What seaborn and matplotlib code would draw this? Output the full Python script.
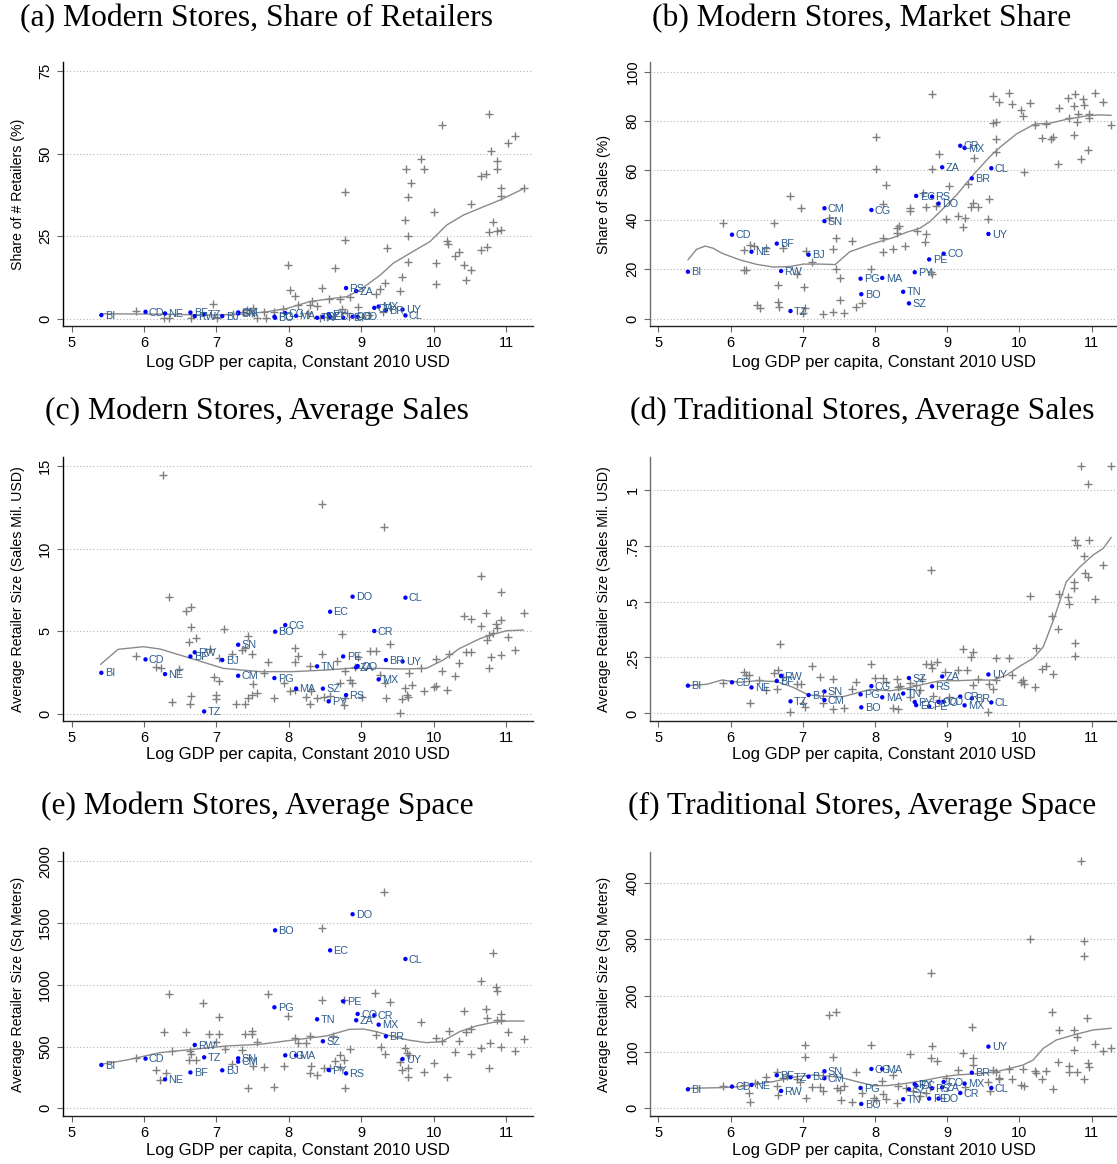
import matplotlib
matplotlib.use("Agg")
import matplotlib.pyplot as plt
import numpy as np
import pandas as pd
import seaborn as sns

# ---------------------------------------------------------------------------
# Labelled countries and their log GDP per capita (constant 2010 USD)
codes = ["BI", "CD", "NE", "BF", "RW", "TZ", "BJ", "CM", "SN", "PG", "BO", "CG",
         "MA", "TN", "SZ", "PY", "EC", "PE", "RS", "DO", "ZA", "CO", "CR", "MX",
         "BR", "UY", "CL"]
log_gdp = [5.41, 6.02, 6.29, 6.64, 6.70, 6.83, 7.08, 7.30, 7.30, 7.80, 7.81, 7.95,
           8.10, 8.39, 8.47, 8.55, 8.57, 8.75, 8.79, 8.88, 8.93, 8.95, 9.18, 9.24,
           9.34, 9.57, 9.61]

# Country values, same order as `codes`
modern_share_retailers = [1.1, 2.1, 1.6, 1.9, 0.8, 1.4, 0.8, 1.9, 1.6, 0.6, 0.3, 1.7,
                          0.9, 0.3, 0.6, 1.4, 0.6, 0.3, 9.3, 0.6, 8.4, 0.6, 3.3, 3.7,
                          2.6, 2.8, 1.0]
modern_market_share = [19.0, 34.0, 27.1, 30.4, 19.3, 3.1, 25.9, 44.7, 39.5, 16.2, 9.9, 44.0,
                       16.5, 10.9, 6.2, 18.8, 49.7, 24.0, 49.4, 46.6, 61.3, 26.3, 70.0, 69.1,
                       56.8, 34.3, 60.9]
modern_avg_sales = [2.48, 3.29, 2.40, 3.47, 3.72, 0.14, 3.25, 2.30, 4.18, 2.16, 4.97, 5.37,
                    1.52, 2.87, 1.52, 0.75, 6.18, 3.47, 1.13, 7.09, 2.81, 2.89, 5.01, 2.08,
                    3.25, 3.17, 7.03]
trad_avg_sales = [0.124, 0.139, 0.116, 0.145, 0.168, 0.054, 0.082, 0.060, 0.098, 0.085, 0.027, 0.122,
                  0.072, 0.089, 0.158, 0.051, 0.037, 0.031, 0.121, 0.051, 0.165, 0.052, 0.075, 0.036,
                  0.067, 0.174, 0.049]
modern_avg_space = [351, 402, 235, 291, 513, 413, 308, 378, 405, 818, 1441, 429,
                    429, 721, 543, 310, 1279, 866, 283, 1571, 713, 764, 753, 677,
                    583, 399, 1209]
trad_avg_space = [33.7, 38.5, 41.4, 58.6, 30.8, 55.0, 56.2, 53.3, 65.7, 36.1, 7.7, 69.8,
                  69.8, 16.0, 33.7, 42.6, 40.2, 17.2, 35.5, 17.2, 37.3, 46.7, 27.2, 43.8,
                  63.3, 109.5, 36.1]

# Other countries (unlabelled), (log GDP, value)
others_share_retailers = [
    (5.89, 2.4), (6.27, 0.1), (6.34, 0.1), (6.65, 0.3), (6.95, 4.6), (7.01, 0.1), (7.23, 1.3),
    (7.37, 1.9), (7.42, 2.6), (7.49, 1.6), (7.51, 3.2), (7.56, 0.1), (7.65, 1.9), (7.79, 1.9),
    (7.92, 3.0), (7.99, 16.3), (8.01, 8.7), (8.08, 7.0), (8.13, 4.3), (8.29, 4.1), (8.32, 5.5),
    (8.39, 3.9), (8.46, 9.3), (8.56, 5.9), (8.64, 15.3), (8.70, 5.9), (8.74, 3.1), (8.77, 38.3),
    (8.78, 24.0), (8.84, 6.7), (8.96, 3.5), (9.20, 7.4), (9.26, 8.9), (9.33, 10.9), (9.35, 21.5),
    (9.30, 1.9), (9.53, 8.3), (9.56, 12.5), (9.62, 45.5), (9.60, 29.9), (9.64, 36.9), (9.65, 25.1),
    (9.65, 17.2), (9.69, 41.1), (9.83, 48.3), (9.87, 45.5), (10.00, 32.2), (10.03, 16.9),
    (10.03, 10.5), (10.12, 58.8), (10.19, 23.5), (10.20, 22.8), (10.29, 19.0), (10.35, 20.2),
    (10.42, 16.4), (10.44, 11.6), (10.51, 14.7), (10.52, 34.9), (10.65, 43.2), (10.65, 20.9),
    (10.72, 43.9), (10.73, 21.6), (10.76, 62.0), (10.77, 26.2), (10.79, 50.7), (10.82, 29.4),
    (10.87, 47.7), (10.87, 45.5), (10.87, 26.7), (10.93, 27.0), (10.93, 39.5), (10.93, 37.1),
    (11.03, 53.4), (11.13, 55.4), (11.25, 39.5), (8.43, 0.1), (8.52, 0.6), (7.69, 0.1),
    (8.27, 1.6), (8.80, 1.6), (9.01, 0.6), (9.10, 1.1)]
others_market_share = [
    (5.90, 38.9), (6.18, 27.7), (6.27, 29.7), (6.32, 29.4), (6.22, 19.7), (6.18, 19.7), (6.36, 5.5),
    (6.41, 4.2), (6.49, 28.7), (6.60, 38.9), (6.66, 13.6), (6.66, 6.9), (6.67, 4.9), (6.73, 28.5),
    (6.83, 49.5), (6.92, 18.1), (6.98, 44.9), (7.02, 12.7), (7.04, 27.5), (7.03, 4.2), (7.01, 2.2),
    (7.13, 23.1), (7.28, 1.9), (7.36, 40.6), (7.42, 28.1), (7.42, 2.6), (7.46, 32.8), (7.46, 20.2),
    (7.52, 7.6), (7.52, 16.5), (7.57, 2.2), (7.68, 31.4), (7.73, 4.9), (7.82, 6.2), (7.95, 20.1),
    (8.01, 73.7), (8.02, 60.5), (8.11, 46.4), (8.11, 32.5), (8.11, 26.9), (8.15, 54.1), (8.25, 28.2),
    (8.31, 36.6), (8.33, 37.5), (8.31, 34.7), (8.41, 29.6), (8.48, 44.9), (8.48, 43.7), (8.58, 35.5),
    (8.66, 50.7), (8.71, 45.1), (8.71, 34.3), (8.69, 31.2), (8.79, 91.1), (8.79, 60.5), (8.77, 19.0),
    (8.79, 17.9), (8.85, 45.7), (8.89, 66.7), (8.98, 40.4), (9.02, 53.8), (9.15, 41.6), (9.22, 37.2),
    (9.25, 40.6), (9.29, 54.4), (9.33, 45.3), (9.36, 46.8), (9.37, 64.9), (9.42, 45.2), (9.56, 40.5),
    (9.58, 48.6), (9.64, 90.3), (9.64, 79.4), (9.67, 79.6), (9.67, 72.6), (9.67, 67.6), (9.72, 87.6),
    (9.85, 91.2), (9.90, 87.0), (10.02, 84.5), (10.05, 82.1), (10.15, 87.4), (10.06, 59.2),
    (10.22, 78.3), (10.31, 73.1), (10.37, 78.7), (10.44, 72.6), (10.47, 73.7), (10.54, 62.8),
    (10.55, 85.2), (10.67, 89.2), (10.68, 81.1), (10.77, 91.1), (10.75, 74.4), (10.75, 86.1),
    (10.79, 79.5), (10.81, 82.7), (10.85, 64.6), (10.88, 88.8), (10.89, 86.5), (10.95, 68.3),
    (10.96, 83.0), (10.96, 81.1), (11.05, 91.4), (11.15, 87.9), (11.27, 78.3)]
others_modern_sales = [
    (5.89, 3.49), (6.17, 2.81), (6.23, 2.75), (6.26, 14.46), (6.34, 7.05), (6.39, 0.69), (6.48, 2.69),
    (6.58, 6.22), (6.62, 4.36), (6.65, 5.25), (6.65, 6.44), (6.65, 1.05), (6.63, 0.59), (6.72, 4.61),
    (6.91, 3.90), (6.96, 2.20), (7.00, 0.87), (7.00, 1.15), (7.03, 1.98), (7.04, 3.35), (7.11, 5.15),
    (7.22, 3.64), (7.27, 0.59), (7.35, 3.86), (7.39, 3.98), (7.40, 0.59), (7.44, 4.71), (7.44, 0.93),
    (7.49, 1.13), (7.49, 3.60), (7.51, 1.78), (7.56, 1.25), (7.66, 2.48), (7.71, 3.13), (7.80, 0.97),
    (7.93, 1.84), (8.01, 1.39), (8.08, 3.98), (8.09, 3.13), (8.12, 3.49), (8.09, 1.43), (8.23, 0.99),
    (8.29, 2.91), (8.29, 0.57), (8.31, 1.35), (8.39, 0.93), (8.46, 12.71), (8.46, 3.64), (8.48, 0.99),
    (8.57, 1.07), (8.67, 3.21), (8.70, 1.88), (8.74, 4.81), (8.76, 0.51), (8.78, 2.59), (8.77, 0.97),
    (8.84, 2.04), (8.87, 1.86), (8.92, 2.85), (8.96, 3.43), (9.01, 1.01), (9.12, 3.78), (9.21, 3.78),
    (9.26, 2.32), (9.31, 11.29), (9.33, 1.88), (9.34, 0.95), (9.40, 4.24), (9.54, 0.06), (9.56, 0.87),
    (9.60, 1.54), (9.63, 1.13), (9.65, 0.99), (9.66, 2.48), (9.70, 1.74), (9.83, 2.75), (9.87, 1.37),
    (10.00, 1.60), (10.03, 3.31), (10.03, 1.66), (10.12, 2.57), (10.19, 1.43), (10.21, 3.60),
    (10.29, 2.30), (10.35, 3.09), (10.42, 5.92), (10.44, 3.76), (10.51, 3.76), (10.52, 5.72),
    (10.65, 5.33), (10.65, 8.36), (10.72, 6.12), (10.73, 4.44), (10.76, 4.77), (10.77, 2.77),
    (10.79, 3.45), (10.82, 4.87), (10.86, 5.45), (10.87, 5.21), (10.93, 5.70), (10.93, 3.54),
    (10.93, 7.35), (11.03, 4.67), (11.13, 3.88), (11.25, 6.10)]
others_trad_sales = [
    (5.90, 0.134), (6.18, 0.186), (6.22, 0.173), (6.25, 0.173), (6.27, 0.048), (6.40, 0.149),
    (6.49, 0.104), (6.60, 0.182), (6.64, 0.107), (6.66, 0.194), (6.68, 0.308), (6.72, 0.164),
    (6.83, 0.006), (6.92, 0.130), (6.98, 0.130), (7.01, 0.045), (7.03, 0.030), (7.13, 0.212),
    (7.24, 0.162), (7.28, 0.045), (7.42, 0.154), (7.42, 0.021), (7.57, 0.025), (7.68, 0.109),
    (7.73, 0.140), (7.95, 0.221), (8.00, 0.158), (8.11, 0.158), (8.15, 0.139), (8.25, 0.022),
    (8.31, 0.152), (8.32, 0.119), (8.35, 0.122), (8.32, 0.018), (8.48, 0.134), (8.48, 0.110),
    (8.49, 0.075), (8.57, 0.125), (8.62, 0.104), (8.65, 0.152), (8.71, 0.219), (8.77, 0.641),
    (8.78, 0.221), (8.79, 0.201), (8.80, 0.077), (8.86, 0.228), (8.88, 0.060), (8.97, 0.186),
    (9.15, 0.194), (9.02, 0.075), (9.22, 0.286), (9.28, 0.194), (9.33, 0.250), (9.36, 0.276),
    (9.36, 0.128), (9.42, 0.155), (9.56, 0.007), (9.58, 0.131), (9.64, 0.107), (9.67, 0.246),
    (9.67, 0.151), (9.85, 0.249), (9.89, 0.171), (10.02, 0.139), (10.05, 0.149), (10.06, 0.130),
    (10.14, 0.525), (10.22, 0.116), (10.23, 0.294), (10.31, 0.197), (10.37, 0.212), (10.46, 0.174),
    (10.45, 0.435), (10.54, 0.379), (10.55, 0.535), (10.67, 0.522), (10.68, 0.489), (10.75, 0.589),
    (10.75, 0.560), (10.77, 0.775), (10.80, 0.754), (10.77, 0.256), (10.77, 0.316), (10.85, 1.106),
    (10.95, 1.027), (10.89, 0.703), (10.91, 0.629), (10.95, 0.608), (10.96, 0.775), (11.05, 0.510),
    (11.15, 0.665), (11.27, 1.106)]
others_modern_space = [
    (5.89, 405), (6.17, 310), (6.22, 229), (6.30, 283), (6.34, 923), (6.27, 615), (6.39, 464),
    (6.58, 615), (6.63, 464), (6.62, 391), (6.65, 440), (6.72, 391), (6.81, 850), (6.90, 602),
    (7.00, 534), (7.03, 602), (7.04, 742), (7.12, 480), (7.22, 359), (7.35, 472), (7.40, 602),
    (7.44, 162), (7.49, 626), (7.49, 599), (7.51, 345), (7.56, 540), (7.66, 332), (7.71, 926),
    (7.80, 175), (7.93, 340), (7.99, 748), (8.08, 569), (8.12, 526), (8.23, 526), (8.29, 588),
    (8.29, 286), (8.31, 340), (8.39, 267), (8.46, 1457), (8.46, 874), (8.48, 327), (8.57, 327),
    (8.61, 586), (8.64, 386), (8.70, 432), (8.71, 337), (8.76, 389), (8.77, 162), (8.76, 874),
    (8.84, 478), (9.19, 931), (9.21, 594), (9.27, 499), (9.31, 1754), (9.33, 443), (9.40, 864),
    (9.54, 375), (9.56, 310), (9.60, 486), (9.63, 445), (9.65, 324), (9.65, 254), (9.66, 432),
    (9.83, 699), (9.87, 297), (10.00, 370), (10.03, 569), (10.12, 543), (10.19, 256), (10.21, 626),
    (10.29, 456), (10.35, 543), (10.42, 785), (10.44, 615), (10.51, 437), (10.51, 645),
    (10.65, 1028), (10.65, 486), (10.72, 802), (10.74, 729), (10.77, 329), (10.78, 529),
    (10.82, 1260), (10.86, 980), (10.87, 953), (10.87, 713), (10.93, 764), (10.93, 494),
    (10.93, 718), (11.03, 615), (11.13, 464), (11.25, 559)]
others_trad_space = [
    (5.90, 39.6), (6.18, 41.4), (6.25, 27.8), (6.27, 10.7), (6.34, 45.6), (6.49, 56.2), (6.64, 65.1),
    (6.65, 39.6), (6.66, 23.7), (6.73, 53.3), (6.78, 57.4), (6.92, 51.5), (6.96, 46.2), (7.03, 111.8),
    (7.03, 90.5), (7.05, 18.9), (7.13, 37.9), (7.24, 38.5), (7.28, 31.4), (7.36, 166.3), (7.46, 171.0),
    (7.42, 90.5), (7.47, 36.7), (7.52, 32.5), (7.53, 15.4), (7.57, 39.6), (7.68, 11.2), (7.73, 65.1),
    (7.82, 27.8), (7.95, 113.0), (7.98, 17.8), (8.02, 14.8), (8.10, 48.5), (8.11, 25.4), (8.15, 16.0),
    (8.25, 58.6), (8.32, 40.2), (8.31, 10.1), (8.43, 36.7), (8.48, 95.9), (8.53, 31.4), (8.62, 21.9),
    (8.71, 26.6), (8.76, 38.5), (8.77, 240.2), (8.79, 111.2), (8.78, 88.8), (8.86, 84.0), (8.98, 54.4),
    (9.15, 68.0), (9.22, 98.2), (9.24, 37.9), (9.34, 144.4), (9.36, 88.8), (9.36, 77.5), (9.57, 47.3),
    (9.59, 31.4), (9.64, 68.0), (9.67, 65.1), (9.71, 52.7), (9.72, 54.4), (9.85, 70.4), (9.89, 51.5),
    (10.02, 41.4), (10.06, 40.2), (10.05, 70.4), (10.14, 300.0), (10.22, 66.9), (10.23, 62.1),
    (10.31, 51.5), (10.37, 66.3), (10.45, 170.4), (10.47, 34.3), (10.54, 82.8), (10.55, 139.1),
    (10.68, 74.6), (10.68, 64.5), (10.75, 139.1), (10.75, 103.6), (10.79, 127.2), (10.79, 65.1),
    (10.85, 438.5), (10.89, 297.6), (10.89, 270.4), (10.90, 52.1), (10.94, 160.9), (10.95, 79.9),
    (10.96, 74.0), (11.05, 113.6), (11.15, 101.8), (11.27, 106.5)]

# Lowess fits, (log GDP, fitted value)
fit_share_retailers = [(5.40, 1.5), (6.22, 1.4), (6.91, 1.1), (7.37, 1.4), (7.69, 2.1), (7.97, 3.1),
                       (8.29, 5.2), (8.52, 5.9), (8.80, 6.7), (8.98, 8.7), (9.26, 13.2), (9.44, 16.8),
                       (9.67, 19.8), (9.95, 23.4), (10.18, 28.4), (10.41, 31.4), (10.64, 33.5),
                       (10.92, 36.0), (11.25, 39.5)]
fit_market_share = [(5.41, 23.8), (5.53, 28.1), (5.65, 29.4), (5.76, 28.5), (5.88, 26.5), (6.13, 23.8),
                    (6.36, 22.0), (6.59, 20.9), (6.82, 21.1), (7.01, 22.1), (7.24, 22.1), (7.45, 21.9),
                    (7.65, 27.1), (7.98, 30.5), (8.25, 32.8), (8.44, 35.0), (8.62, 36.6), (8.76, 39.3),
                    (8.90, 43.3), (9.13, 50.1), (9.36, 58.2), (9.59, 65.6), (9.73, 69.4), (9.96, 74.8),
                    (10.21, 78.8), (10.42, 79.1), (10.65, 80.7), (10.93, 82.1), (11.11, 82.5),
                    (11.27, 82.3)]
fit_modern_sales = [(5.40, 2.99), (5.64, 3.90), (5.99, 4.06), (6.22, 3.92), (6.68, 3.31), (7.09, 2.75),
                    (7.60, 2.55), (8.06, 2.55), (8.52, 2.65), (8.84, 2.75), (9.21, 2.75), (9.58, 2.71),
                    (9.90, 2.75), (10.13, 3.25), (10.36, 3.96), (10.64, 4.55), (10.82, 4.81),
                    (11.01, 5.03), (11.24, 5.07)]
fit_trad_sales = [(5.41, 0.124), (5.67, 0.130), (5.88, 0.149), (6.13, 0.139), (6.36, 0.146), (6.64, 0.142),
                  (6.87, 0.116), (7.08, 0.082), (7.28, 0.077), (7.56, 0.075), (7.93, 0.107), (8.21, 0.101),
                  (8.44, 0.112), (8.67, 0.130), (8.90, 0.146), (9.13, 0.146), (9.36, 0.149), (9.64, 0.149),
                  (9.82, 0.171), (10.01, 0.212), (10.19, 0.246), (10.33, 0.298), (10.47, 0.417),
                  (10.65, 0.589), (10.84, 0.656), (11.02, 0.708), (11.16, 0.738), (11.27, 0.787)]
fit_modern_space = [(5.40, 356), (5.76, 391), (6.22, 451), (6.68, 478), (7.14, 505), (7.60, 518), (8.06, 553),
                    (8.52, 586), (8.84, 640), (9.03, 642), (9.21, 621), (9.44, 580), (9.67, 551), (9.90, 532),
                    (10.11, 540), (10.36, 621), (10.59, 667), (10.82, 696), (11.05, 707), (11.25, 707)]
fit_trad_space = [(5.41, 35.5), (5.90, 36.7), (6.13, 38.5), (6.59, 47.3), (6.92, 56.2), (7.15, 59.2),
                  (7.52, 55.0), (7.75, 47.3), (7.98, 40.2), (8.16, 40.2), (8.44, 44.4), (8.67, 49.1),
                  (8.90, 55.0), (9.13, 59.2), (9.36, 60.9), (9.64, 63.9), (9.82, 69.2), (10.05, 76.9),
                  (10.19, 85.8), (10.33, 106.5), (10.51, 121.3), (10.75, 130.2), (11.02, 139.1),
                  (11.27, 142.0)]

# ---------------------------------------------------------------------------
sns.set_theme(style="ticks")
plt.rcParams["font.family"] = ["Liberation Sans", "DejaVu Sans"]

SERIF = ["Liberation Serif", "DejaVu Serif"]
GREY = "#7f7f7f"
LABEL_BLUE = "#2e5d8e"
DOT_BLUE = "#0000ff"

panels = [
    dict(title="(a) Modern Stores, Share of Retailers", ylabel="Share of # Retailers (%)",
         countries=modern_share_retailers, others=others_share_retailers, fit=fit_share_retailers,
         yticks=[0, 25, 50, 75], yticklabels=["0", "25", "50", "75"], ylim=(-2.2, 77.8)),
    dict(title="(b) Modern Stores, Market Share", ylabel="Share of Sales (%)",
         countries=modern_market_share, others=others_market_share, fit=fit_market_share,
         yticks=[0, 20, 40, 60, 80, 100], yticklabels=["0", "20", "40", "60", "80", "100"],
         ylim=(-2.96, 103.9)),
    dict(title="(c) Modern Stores, Average Sales", ylabel="Average Retailer Size (Sales Mil. USD)",
         countries=modern_avg_sales, others=others_modern_sales, fit=fit_modern_sales,
         yticks=[0, 5, 10, 15], yticklabels=["0", "5", "10", "15"], ylim=(-0.44, 15.55)),
    dict(title="(d) Traditional Stores, Average Sales", ylabel="Average Retailer Size (Sales Mil. USD)",
         countries=trad_avg_sales, others=others_trad_sales, fit=fit_trad_sales,
         yticks=[0, 0.25, 0.5, 0.75, 1], yticklabels=["0", ".25", ".5", ".75", "1"],
         ylim=(-0.034, 1.146)),
    dict(title="(e) Modern Stores, Average Space", ylabel="Average Retailer Size (Sq Meters)",
         countries=modern_avg_space, others=others_modern_space, fit=fit_modern_space,
         yticks=[0, 500, 1000, 1500, 2000], yticklabels=["0", "500", "1000", "1500", "2000"],
         ylim=(-62, 2075)),
    dict(title="(f) Traditional Stores, Average Space", ylabel="Average Retailer Size (Sq Meters)",
         countries=trad_avg_space, others=others_trad_space, fit=fit_trad_space,
         yticks=[0, 100, 200, 300, 400], yticklabels=["0", "100", "200", "300", "400"],
         ylim=(-13.7, 455)),
]

W, H = 1117, 1164
fig = plt.figure(figsize=(W / 100, H / 100), dpi=100)

col_left = [62.7, 650.0]
col_right = [533.0, 1117.0]
col_xlim = [(4.876, 11.372), (4.885, 11.35)]
row_top = [62.0, 457.0, 852.0]
row_bottom = [326.0, 721.0, 1116.0]
title_y = [19.0, 411.0, 806.0]
title_x = [257.0, 862.0]
xlabel_y = [362.0, 755.0, 1150.0]
ylabel_x = [18.0, 604.0]

for i, p in enumerate(panels):
    r, c = divmod(i, 2)
    ax = fig.add_axes([col_left[c] / W, 1 - row_bottom[r] / H,
                       (col_right[c] - col_left[c]) / W, (row_bottom[r] - row_top[r]) / H])

    oth = pd.DataFrame(p["others"], columns=["gdp", "val"])
    ctry = pd.DataFrame({"code": codes, "gdp": log_gdp, "val": p["countries"]})
    fit = pd.DataFrame(p["fit"], columns=["gdp", "val"])

    sns.scatterplot(data=oth, x="gdp", y="val", ax=ax, marker="+", s=32,
                    color=GREY, linewidth=1.0, zorder=2)
    sns.lineplot(data=fit, x="gdp", y="val", ax=ax, color="#8a8a8a", lw=1.0,
                 estimator=None, sort=True, zorder=3)
    sns.scatterplot(data=ctry, x="gdp", y="val", ax=ax, s=10, color=DOT_BLUE,
                    edgecolor="none", zorder=4)
    for _, row in ctry.iterrows():
        ax.annotate(row["code"], (row["gdp"], row["val"]), xytext=(2.5, -0.5),
                    textcoords="offset points", ha="left", va="center",
                    fontsize=7.8, color=LABEL_BLUE, zorder=5)

    ax.set_xlim(*col_xlim[c])
    ax.set_ylim(*p["ylim"])
    ax.set_xticks([5, 6, 7, 8, 9, 10, 11])
    ax.set_yticks(p["yticks"])
    ax.set_yticklabels(p["yticklabels"])
    for lab in ax.get_yticklabels():
        lab.set_rotation(90)
        lab.set_va("center")
        lab.set_ha("right")
    ax.tick_params(axis="both", length=4.5, width=0.8, color="#666666",
                   labelsize=10.5, labelcolor="black", pad=3)
    ax.set_xlabel("")
    ax.set_ylabel("")
    for yv in p["yticks"]:
        ax.axhline(yv, color="#b5b5b5", lw=0.8, ls=(0, (1, 2)), zorder=1)
    sns.despine(ax=ax)
    spine_col = "black" if c == 0 else "#6e6e6e"
    ax.spines["left"].set_color(spine_col)
    ax.spines["bottom"].set_color("#222222")
    ax.spines["left"].set_linewidth(1.0)
    ax.spines["bottom"].set_linewidth(1.0)
    ax.set_facecolor("white")

    fig.text(title_x[c] / W, 1 - title_y[r] / H, p["title"], ha="center", va="center",
             fontsize=22.8, family=SERIF, color="black")
    xc = (col_left[c] + col_right[c]) / 2
    fig.text(xc / W, 1 - xlabel_y[r] / H, "Log GDP per capita, Constant 2010 USD",
             ha="center", va="center", fontsize=12.0, color="black")
    yc = (row_top[r] + row_bottom[r]) / 2
    fig.text(ylabel_x[c] / W, 1 - yc / H, p["ylabel"], ha="center", va="center",
             rotation=90, fontsize=10.2, color="black")

fig.savefig("out.png", dpi=100, facecolor="white")
